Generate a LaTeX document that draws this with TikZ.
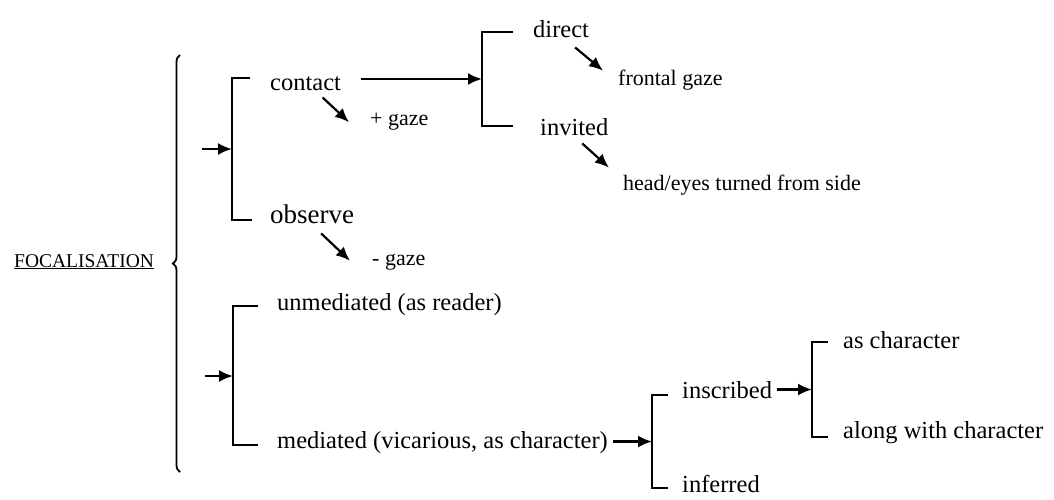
\documentclass[tikz,border=0pt]{standalone}
\usepackage{fontspec}
\setmainfont{Liberation Serif}
\usetikzlibrary{calc,arrows.meta,decorations.pathreplacing}

\tikzset{
    lbl/.style={anchor=base west, inner sep=0pt, font=\fontsize{24.5}{28}\selectfont},
    sml/.style={anchor=base west, inner sep=0pt, font=\fontsize{22}{26}\selectfont},
    arr/.style={line width=2.2pt, -{Latex[length=14pt,width=12pt]}},
    brk/.style={line width=1.8pt}
}

\begin{document}
\begin{tikzpicture}[x=1pt,y=-1pt]
    \useasboundingbox (0,0) rectangle (1054,499);
    \node[anchor=base west, inner sep=0pt, font=\fontsize{19.5}{22}\selectfont] (foc) at (14,267) {\underline{FOCALISATION}};
    \coordinate (B1) at (180,472);
    \coordinate (B2) at (180,55);
    \draw[brk, decorate, decoration={brace, amplitude=7pt}] (B1) -- (B2);

    \coordinate (A1) at (232,78);
    \coordinate (A2) at (232,220);
    \coordinate (Ain) at (202,149);
    \draw[brk] ($(A1)+(18,0)$) -- (A1) -- (A2) -- ($(A2)+(20,0)$);
    \draw[arr] (Ain) -- (Ain -| A1);
    \node[lbl] (contact) at (270,90) {contact};
    \node[sml] (pgaze) at (370,125) {+ gaze};
    \node[lbl, font=\fontsize{27}{30}\selectfont] (observe) at (270,223) {observe};
    \node[sml] (mgaze) at (372,265) {- gaze};
    \draw[arr] ($(contact.south)+(17,7)$) -- ($(pgaze.west)+(-21,1)$);
    \draw[arr] ($(observe.south)+(9,10)$) -- ($(mgaze.west)+(-22,-1)$);

    \coordinate (C1) at (482,32);
    \coordinate (C2) at (482,126);
    \coordinate (Cm) at ($(C1)!0.5!(C2)$);
    \draw[brk] ($(C1)+(31,0)$) -- (C1) -- (C2) -- ($(C2)+(31,0)$);
    \draw[arr] ($(contact.east |- Cm)+(20,0)$) -- (Cm);
    \node[lbl] (direct) at (533,37) {direct};
    \node[sml] (frontal) at (618,85) {frontal gaze};
    \node[lbl] (invited) at (540,135) {invited};
    \node[sml] (head) at (623,190) {head/eyes turned from side};
    \draw[arr] ($(direct.south)+(14,10)$) -- ($(frontal.west)+(-15,-9)$);
    \draw[arr] ($(invited.south)+(8,8)$) -- ($(head.west)+(-14,-17)$);

    \coordinate (D1) at (233,306);
    \coordinate (D2) at (233,445);
    \coordinate (Din) at (205,376);
    \draw[brk] ($(D1)+(25,0)$) -- (D1) -- (D2) -- ($(D2)+(25,0)$);
    \draw[arr] (Din) -- (Din -| D1);
    \node[lbl] (unmed) at (277,310) {unmediated (as reader)};
    \node[lbl] (med) at (277,448) {mediated (vicarious, as character)};

    \coordinate (E1) at (652,395);
    \coordinate (E2) at (652,488);
    \coordinate (Em) at ($(E1)!0.5!(E2)$);
    \draw[brk] ($(E1)+(16,0)$) -- (E1) -- (E2) -- ($(E2)+(16,0)$);
    \draw[arr] ($(med.east |- Em)+(5,0)$) -- (Em);
    \node[lbl] (inscr) at (682,398) {inscribed};
    \node[lbl] (infer) at (682,492) {inferred};

    \coordinate (F1) at (812,342);
    \coordinate (F2) at (812,437);
    \coordinate (Fm) at ($(F1)!0.5!(F2)$);
    \draw[brk] ($(F1)+(16,0)$) -- (F1) -- (F2) -- ($(F2)+(16,0)$);
    \draw[arr] ($(inscr.east |- Fm)+(5,0)$) -- (Fm);
    \node[lbl] (aschar) at (843,348) {as character};
    \node[lbl] (along) at (843,438) {along with character};
\end{tikzpicture}
\end{document}
